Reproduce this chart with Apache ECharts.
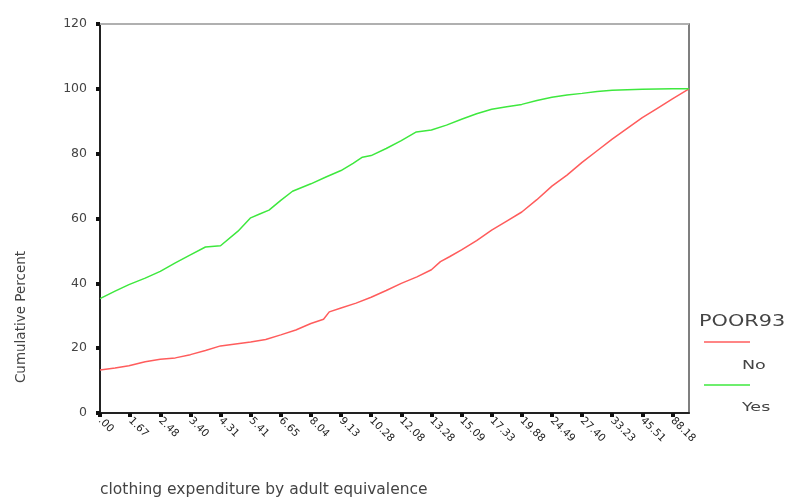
<!DOCTYPE html>
<html>
<head>
<meta charset="utf-8">
<script src="https://cdn.jsdelivr.net/npm/echarts@6/dist/echarts.min.js"></script>
<style>html,body{margin:0;padding:0;background:#fff;}#c{width:800px;height:504px;}</style>
</head>
<body>
<div id="c"></div>
<script>
// x tick labels (clothing expenditure values at tick positions)
var tickLabels = [".00","1.67","2.48","3.40","4.31","5.41","6.65","8.04","9.13","10.28",
                  "12.08","13.28","15.09","17.33","19.88","24.49","27.40","33.23","45.51","88.18"];
var xEnd = 19.55; // last category position (right edge)
var yTicks = [0, 20, 40, 60, 80, 100, 120];

// POOR93 = No (red) : positions along category axis and cumulative percent
var noPos = [0, 0.5, 0.96, 1.5, 2, 2.5, 3, 3.5, 4, 4.5, 5, 5.5, 6, 6.5, 7, 7.42, 7.61, 8, 8.5, 9, 9.5, 10, 10.52, 11, 11.3, 11.6, 12, 12.5, 13, 13.5, 14, 14.5, 15, 15.5, 16, 16.5, 17, 17.5, 18, 18.5, 19, 19.55];
var noVal = [13.3, 13.9, 14.6, 15.8, 16.6, 17.0, 18.0, 19.3, 20.7, 21.3, 21.9, 22.7, 24.1, 25.6, 27.6, 28.9, 31.2, 32.4, 33.9, 35.7, 37.8, 40.0, 42.0, 44.2, 46.7, 48.2, 50.3, 53.2, 56.4, 59.2, 62.0, 65.8, 70.0, 73.4, 77.3, 80.9, 84.5, 87.8, 91.1, 94.0, 96.9, 100];

// POOR93 = Yes (green)
var yesPos = [0, 0.5, 0.96, 1.5, 2, 2.5, 3, 3.5, 4, 4.58, 5, 5.3, 5.61, 6, 6.39, 7, 7.5, 8, 8.4, 8.71, 9, 9.5, 10, 10.5, 11, 11.5, 12, 12.5, 13, 13.5, 14, 14.5, 15, 15.5, 16, 16.5, 17, 18, 19, 19.55];
var yesVal = [35.3, 37.6, 39.6, 41.6, 43.7, 46.3, 48.8, 51.2, 51.6, 56.1, 60.2, 61.4, 62.6, 65.6, 68.4, 70.7, 72.8, 74.8, 77.0, 78.9, 79.4, 81.6, 84.0, 86.7, 87.3, 88.8, 90.6, 92.3, 93.7, 94.5, 95.2, 96.4, 97.4, 98.1, 98.6, 99.2, 99.6, 99.9, 100, 100];

function pairs(xs, ys) { return xs.map(function (x, i) { return [x, ys[i]]; }); }

var chart = echarts.init(document.getElementById('c'), null, { renderer: 'canvas' });
var redC = '#ff5c5c', greenC = '#3ee83e';
var txt = '#444';
chart.setOption({
  animation: false,
  backgroundColor: '#ffffff',
  grid: { left: 100, right: 111, top: 24, bottom: 91, show: true, borderColor: '#555', borderWidth: 1.5, backgroundColor: 'transparent' },
  xAxis: {
    type: 'value', min: 0, max: xEnd, interval: 1,
    splitLine: { show: false },
    axisLine: { show: true, lineStyle: { color: '#222', width: 2 } },
    axisTick: { show: true, length: 4, inside: false, lineStyle: { color: '#111', width: 4 } },
    axisLabel: {
      rotate: -45, fontSize: 10.5, color: '#222', fontFamily: 'DejaVu Sans', margin: 6,
      showMaxLabel: false,
      formatter: function (v) { return (Math.abs(v - Math.round(v)) < 1e-6 && tickLabels[Math.round(v)] !== undefined) ? tickLabels[Math.round(v)] : ''; }
    }
  },
  yAxis: {
    type: 'value', min: yTicks[0], max: yTicks[yTicks.length - 1], interval: 20,
    splitLine: { show: false },
    axisLine: { show: true, lineStyle: { color: '#222', width: 2 } },
    axisTick: { show: true, length: 4, lineStyle: { color: '#111', width: 4 } },
    axisLabel: { fontSize: 12.5, color: txt, fontFamily: 'DejaVu Sans', margin: 13 }
  },
  series: [
    { name: 'No', type: 'line', data: pairs(noPos, noVal), showSymbol: false, lineStyle: { color: redC, width: 1.5 }, itemStyle: { color: redC } },
    { name: 'Yes', type: 'line', data: pairs(yesPos, yesVal), showSymbol: false, lineStyle: { color: greenC, width: 1.5 }, itemStyle: { color: greenC } }
  ],
  graphic: [
    { type: 'line', shape: { x1: 100, y1: 24, x2: 689, y2: 24 }, style: { stroke: '#b0b0b0', lineWidth: 2 }, z: 10 },
    { type: 'text', x: 21, y: 317, rotation: Math.PI / 2,
      style: { text: 'Cumulative Percent', font: '13.5px "DejaVu Sans"', fill: txt, textAlign: 'center', textVerticalAlign: 'middle' } },
    { type: 'text', x: 100, y: 490, style: { text: 'clothing expenditure by adult equivalence', font: '15.5px "DejaVu Sans"', fill: txt, textAlign: 'left', textVerticalAlign: 'middle' } },
    { type: 'text', x: 699, y: 322, scaleX: 1.3, style: { text: 'POOR93', font: '16px "DejaVu Sans"', fill: txt, textAlign: 'left', textVerticalAlign: 'middle' } },
    { type: 'line', shape: { x1: 704, y1: 342, x2: 750, y2: 342 }, style: { stroke: redC, lineWidth: 1.5 } },
    { type: 'text', x: 742, y: 366, scaleX: 1.4, style: { text: 'No', font: '12.5px "DejaVu Sans"', fill: txt, textAlign: 'left', textVerticalAlign: 'middle' } },
    { type: 'line', shape: { x1: 704, y1: 385, x2: 750, y2: 385 }, style: { stroke: greenC, lineWidth: 1.5 } },
    { type: 'text', x: 742, y: 408, scaleX: 1.4, style: { text: 'Yes', font: '12.5px "DejaVu Sans"', fill: txt, textAlign: 'left', textVerticalAlign: 'middle' } }
  ]
});
</script>
</body>
</html>
